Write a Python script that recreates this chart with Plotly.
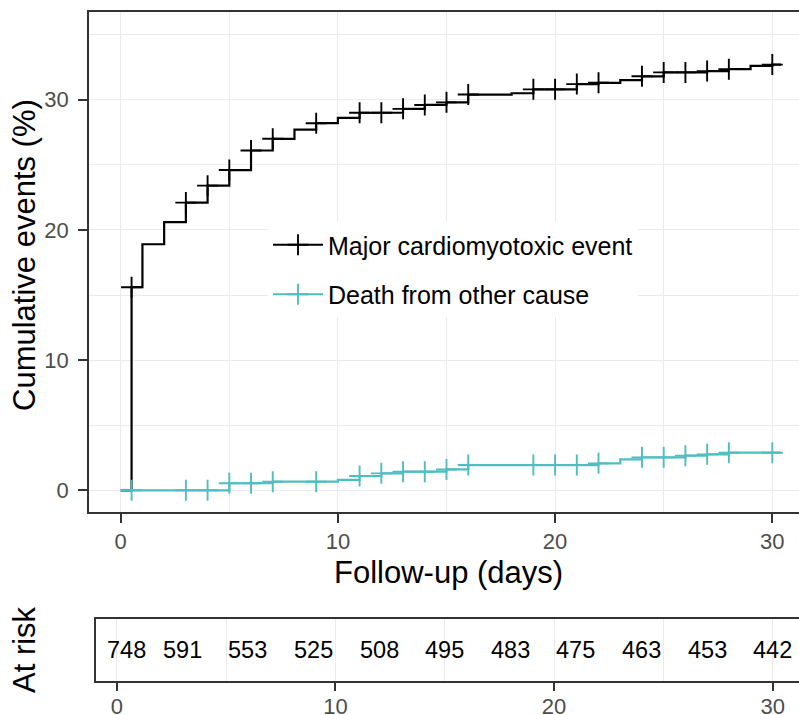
import numpy as np
import plotly.graph_objects as go

# ---------------- data ----------------
mce_times = [0, 0.5, 1, 2, 3, 4, 5, 6, 7, 8, 9, 10, 11, 13, 14, 15, 16, 18, 19,
             21, 22, 23, 24, 25, 27, 28, 29, 30, 30.4]
mce_values = [0, 15.6, 18.9, 20.6, 22.1, 23.4, 24.6, 26.1, 27.0, 27.7, 28.2, 28.6,
              29.0, 29.3, 29.6, 29.8, 30.4, 30.5, 30.8, 31.2, 31.3, 31.5, 31.8,
              32.1, 32.2, 32.35, 32.6, 32.7, 32.7]

death_times = [0, 5, 7, 10, 11, 12, 13, 15, 16, 22, 23, 24, 26, 27, 28, 30.4]
death_values = [0, 0.54, 0.66, 0.8, 1.1, 1.3, 1.43, 1.6, 1.94, 2.07, 2.38, 2.53,
                2.66, 2.76, 2.89, 2.89]

censor_times = [0.5, 3, 4, 5, 6, 7, 9, 11, 12, 13, 14, 15, 16, 19, 20, 21, 22,
                24, 25, 26, 27, 28, 30]

risk_times = [0, 3, 6, 9, 12, 15, 18, 21, 24, 27, 30]
risk_counts = [748, 591, 553, 525, 508, 495, 483, 475, 463, 453, 442]

series_names = ["Major cardiomyotoxic event", "Death from other cause"]
series_colors = ["#000000", "#4FBEC0"]

x_ticks = [0, 10, 20, 30]
y_ticks = [0, 10, 20, 30]


def step_value(times, values, t):
    idx = np.searchsorted(np.asarray(times), np.asarray(t), side="right") - 1
    return np.asarray(values)[idx]


W, H = 799, 715
FONT = "Liberation Sans, Arial, sans-serif"
BORDER = "#333333"
GRID = "#EBEBEB"
TICKFONT = dict(family=FONT, size=22, color="#4D4D4D")
MSIZE = 15

fig = go.Figure()

for name, color, times, values in [
    (series_names[0], series_colors[0], mce_times, mce_values),
    (series_names[1], series_colors[1], death_times, death_values),
]:
    fig.add_trace(go.Scatter(
        x=times, y=values, mode="lines", line=dict(color=color, width=2.2, shape="hv"),
        showlegend=False, hoverinfo="skip", xaxis="x", yaxis="y"))
    fig.add_trace(go.Scatter(
        x=censor_times, y=step_value(times, values, censor_times), mode="markers",
        marker=dict(symbol="cross-thin", size=MSIZE, line=dict(color=color, width=1.9)),
        showlegend=False, hoverinfo="skip", xaxis="x", yaxis="y"))

# legend-only entries
for i, (name, color) in enumerate(zip(series_names, series_colors)):
    fig.add_trace(go.Scatter(
        x=[None], y=[None], mode="lines+markers", name=name, legendgroup=f"g{i}",
        line=dict(color=color, width=2.2),
        marker=dict(symbol="cross-thin", size=MSIZE, line=dict(color=color, width=1.9)),
        xaxis="x", yaxis="y"))

# at-risk table
annotations = []
for i, (t, n) in enumerate(zip(risk_times, risk_counts)):
    annotations.append(dict(
        x=t, y=0.5, xref="x2", yref="y2", text=str(n), showarrow=False,
        xanchor="center", yanchor="middle", xshift=10 if i == 0 else 0,
        font=dict(family=FONT, size=23.5, color="#000000")))

# axis titles
annotations += [
    dict(x=24 / W, y=1 - 255 / H, xref="paper", yref="paper", text="Cumulative events (%)",
         textangle=-90, showarrow=False, xanchor="center", yanchor="middle",
         font=dict(family=FONT, size=31, color="#000000")),
    dict(x=448 / W, y=1 - 572 / H, xref="paper", yref="paper", text="Follow-up (days)",
         showarrow=False, xanchor="center", yanchor="middle",
         font=dict(family=FONT, size=31, color="#000000")),
    dict(x=24 / W, y=1 - 650 / H, xref="paper", yref="paper", text="At risk",
         textangle=-90, showarrow=False, xanchor="center", yanchor="middle",
         font=dict(family=FONT, size=31, color="#000000")),
]

# white box behind the legend (covers grid lines, as in the reference)
shapes = [dict(type="rect", xref="paper", yref="paper",
               x0=250 / W, x1=645 / W, y0=1 - 335 / H, y1=1 - 190 / H,
               fillcolor="white", line=dict(width=0), layer="between")]

common_axis = dict(
    ticks="outside", ticklen=9, tickwidth=1.5, tickcolor=BORDER,
    showline=True, linecolor=BORDER, linewidth=1.5, zeroline=False,
    showgrid=True, gridcolor=GRID, gridwidth=1.4, tickfont=TICKFONT,
    automargin=False,
)

fig.update_layout(
    width=W, height=H,
    margin=dict(l=0, r=0, t=0, b=0),
    paper_bgcolor="white", plot_bgcolor="white",
    font=dict(family=FONT),
    xaxis=dict(domain=[89 / W, 1], range=[-1.46, 31.23], tickvals=x_ticks, mirror=True,
               minor=dict(dtick=5, tick0=0, showgrid=True, gridcolor=GRID, gridwidth=1.0, ticks=""),
               anchor="y", **common_axis),
    yaxis=dict(domain=[1 - 512.3 / H, 1 - 12 / H], range=[-1.69, 36.74], tickvals=y_ticks,
               minor=dict(dtick=5, tick0=0, showgrid=True, gridcolor=GRID, gridwidth=1.0, ticks=""),
               anchor="x", ticklabelstandoff=5, **common_axis),
    xaxis2=dict(domain=[96 / W, 1], range=[-0.95, 31.2], tickvals=x_ticks, mirror=True,
                minor=dict(dtick=5, tick0=0, showgrid=True, gridcolor=GRID, gridwidth=1.0, ticks=""),
                anchor="y2", ticklabelstandoff=-4, **common_axis),
    yaxis2=dict(domain=[1 - 680.7 / H, 1 - 619 / H], range=[0, 1], showticklabels=False,
                ticks="", showgrid=False, showline=True, linecolor=BORDER, linewidth=1.5,
                zeroline=False, anchor="x2"),
    legend=dict(x=268 / W, y=1 - 222 / H, xanchor="left", yanchor="top",
                bgcolor="white", borderwidth=0, tracegroupgap=14, itemwidth=50,
                font=dict(family=FONT, size=25, color="#000000")),
    annotations=annotations,
    shapes=shapes,
)

fig.write_html("out.html", config={"displayModeBar": False},
               post_script="document.body.style.margin='0';document.body.style.overflow='hidden';")
